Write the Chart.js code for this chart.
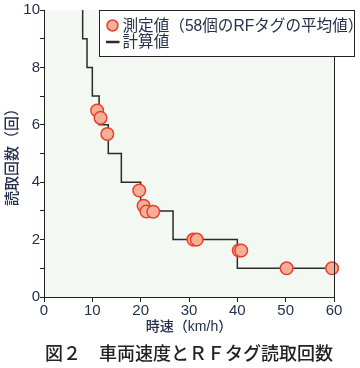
<!DOCTYPE html>
<html>
<head>
<meta charset="utf-8">
<script src="https://cdn.jsdelivr.net/npm/chart.js@4/dist/chart.umd.min.js"></script>
<style>
html,body{margin:0;padding:0;background:#fff;}
#wrap{width:360px;height:368px;}
</style>
</head>
<body>
<div id="wrap"><canvas id="c" width="360" height="368"></canvas></div>
<script>
// Measured values (58 tags average)
const measuredSpeed = [11.0, 11.7, 13.1, 19.7, 20.6, 21.2, 22.6, 30.9, 31.6, 40.3, 40.8, 50.2, 59.6];
const measuredReads = [6.50, 6.24, 5.68, 3.71, 3.18, 2.98, 2.97, 2.00, 2.00, 1.62, 1.62, 1.00, 1.00];
// Calculated step line: speed at which each level begins
const calcSpeed = [8, 8.9, 10, 11.4, 13.3, 16, 20, 26.7, 40, 60];
const calcReads = [10, 9, 8, 7, 6, 5, 4, 3, 2, 1];
const xTicks = [0, 10, 20, 30, 40, 50, 60];
const yTickLabels = [0, 2, 4, 6, 8, 10];

const labelMeasured = '測定値（58個のRFタグの平均値）';
const labelCalc = '計算値';
const xTitle = '時速（km/h）';
const yTitle = '読取回数（回）';
const figTitle = '図２　車両速度とＲＦタグ読取回数';

const FONT = "'Liberation Sans', 'Noto Sans CJK JP', sans-serif";
const TEXT = '#23304a';
const AXIS = '#222222';

const bgPlugin = {
  id: 'bg',
  beforeDraw(chart) {
    const a = chart.chartArea, ctx = chart.ctx;
    ctx.save();
    ctx.fillStyle = '#f3f8f2';
    ctx.fillRect(a.left, a.top, a.right - a.left, a.bottom - a.top);
    ctx.restore();
  },
  afterDatasetsDraw(chart) {
    const a = chart.chartArea, ctx = chart.ctx;
    ctx.save();
    ctx.strokeStyle = AXIS;
    ctx.lineWidth = 1;
    ctx.beginPath();
    ctx.moveTo(a.right + 0.5, a.top);
    ctx.lineTo(a.right + 0.5, a.bottom);
    ctx.stroke();
    ctx.restore();
  }
};

const legendPlugin = {
  id: 'boxLegend',
  afterDraw(chart) {
    const ctx = chart.ctx, a = chart.chartArea;
    const ds = chart.data.datasets;
    const x0 = a.left + 55.5, y0 = a.top + 0.5, w = 255, h = 46;
    ctx.save();
    ctx.fillStyle = '#ffffff';
    ctx.fillRect(x0, y0, w, h);
    ctx.strokeStyle = AXIS;
    ctx.lineWidth = 1;
    ctx.strokeRect(x0, y0, w, h);
    const r1 = y0 + 15, r2 = y0 + 31.5;
    ctx.beginPath();
    ctx.arc(x0 + 13, r1, 5.5, 0, Math.PI * 2);
    ctx.fillStyle = ds[0].backgroundColor;
    ctx.fill();
    ctx.lineWidth = 1.5;
    ctx.strokeStyle = ds[0].borderColor;
    ctx.stroke();
    ctx.beginPath();
    ctx.moveTo(x0 + 6.5, r2);
    ctx.lineTo(x0 + 20, r2);
    ctx.lineWidth = 2.5;
    ctx.strokeStyle = ds[1].borderColor;
    ctx.stroke();
    ctx.fillStyle = TEXT;
    ctx.font = "15.6px " + FONT;
    ctx.textBaseline = 'middle';
    ctx.textAlign = 'left';
    ctx.fillText(ds[0].label, x0 + 23, r1 + 1);
    ctx.fillText(ds[1].label, x0 + 23, r2 + 1);
    ctx.restore();
  }
};

new Chart(document.getElementById('c'), {
  type: 'scatter',
  data: {
    datasets: [
      {
        label: labelMeasured,
        data: measuredSpeed.map((v, i) => ({x: v, y: measuredReads[i]})),
        backgroundColor: '#f6ae98',
        borderColor: '#e6402a',
        borderWidth: 1.5,
        pointRadius: 6.3,
        showLine: false,
        order: 0,
        clip: false
      },
      {
        label: labelCalc,
        data: calcSpeed.map((v, i) => ({x: v, y: calcReads[i]})),
        borderColor: '#2b2b2b',
        backgroundColor: '#2b2b2b',
        borderWidth: 1.5,
        pointRadius: 0,
        showLine: true,
        stepped: 'after',
        order: 1
      }
    ]
  },
  options: {
    responsive: false,
    animation: false,
    devicePixelRatio: 1,
    layout: {padding: {top: 10, right: 26, left: 0, bottom: 0}},
    plugins: {
      legend: {display: false},
      tooltip: {enabled: false},
      title: {
        display: true,
        text: figTitle,
        position: 'bottom',
        fullSize: false,
        color: '#222',
        font: {family: FONT, size: 18, weight: 500, lineHeight: 1.2},
        padding: {top: 5, bottom: 2.4}
      }
    },
    scales: {
      x: {
        type: 'linear',
        min: 0, max: 60,
        afterBuildTicks(s) { s.ticks = xTicks.map(v => ({value: v})); },
        afterFit(s) { s.height = 42; },
        ticks: {color: TEXT, font: {family: FONT, size: 15}, padding: 0, maxRotation: 0},
        grid: {drawOnChartArea: false, drawTicks: true, tickLength: 5, color: AXIS},
        border: {display: true, color: AXIS, width: 1},
        title: {display: true, text: xTitle, color: TEXT, font: {family: FONT, size: 14, weight: 500}, padding: {top: 0, bottom: 3}}
      },
      y: {
        type: 'linear',
        min: 0, max: 10,
        afterFit(s) { s.width = 44; },
        ticks: {
          stepSize: 1, color: TEXT, font: {family: FONT, size: 15}, padding: 0,
          callback: (v) => yTickLabels.includes(v) ? String(v) : ''
        },
        grid: {drawOnChartArea: false, drawTicks: true, tickLength: 4, color: AXIS},
        border: {display: true, color: AXIS, width: 1},
        title: {display: true, text: yTitle, color: TEXT, font: {family: FONT, size: 15, weight: 500}, padding: {top: 4, bottom: 0}}
      }
    }
  },
  plugins: [bgPlugin, legendPlugin]
});
</script>
</body>
</html>
